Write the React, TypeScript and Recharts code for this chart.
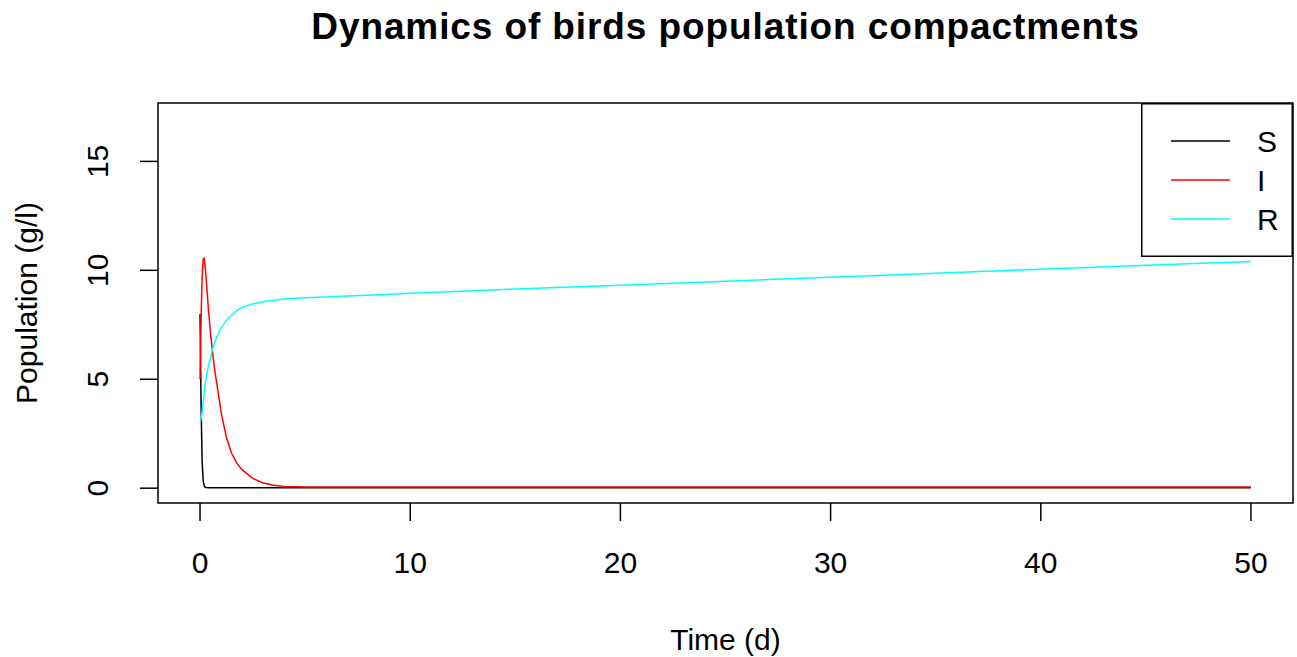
import { Legend, Line, LineChart, ReferenceArea, XAxis, YAxis } from "recharts";

const time = [0, 0.05, 0.1, 0.15, 0.2, 0.25, 0.3, 0.4, 0.5, 0.6, 0.7, 0.8, 1, 1.25, 1.5, 1.75, 2, 2.5, 3, 3.5, 4, 5, 6, 7, 8, 10, 15, 20, 25, 30, 35, 40, 45, 50];
const susceptible = [8.0, 3.8, 1.2, 0.35, 0.1, 0.04, 0.03, 0.02, 0.02, 0.02, 0.02, 0.02, 0.02, 0.02, 0.02, 0.02, 0.02, 0.02, 0.02, 0.02, 0.02, 0.02, 0.02, 0.02, 0.02, 0.02, 0.02, 0.02, 0.02, 0.02, 0.02, 0.02, 0.02, 0.02];
const infected = [5.0, 7.8, 9.7, 10.5, 10.55, 10.1, 9.5, 8.2, 7.1, 6.2, 5.4, 4.8, 3.5, 2.35, 1.6, 1.15, 0.85, 0.45, 0.24, 0.13, 0.08, 0.06, 0.05, 0.05, 0.05, 0.05, 0.05, 0.05, 0.05, 0.05, 0.05, 0.05, 0.05, 0.05];
const recovered = [3.0, 3.2, 3.5, 3.95, 4.4, 4.8, 5.1, 5.6, 6.0, 6.4, 6.7, 6.95, 7.35, 7.7, 7.95, 8.15, 8.3, 8.45, 8.56, 8.63, 8.68, 8.74, 8.78, 8.82, 8.86, 8.95, 9.14, 9.32, 9.5, 9.68, 9.87, 10.05, 10.23, 10.41];

const seriesOrder = ["S", "I", "R"];
const xTicks = [0, 10, 20, 30, 40, 50];
const yTicks = [0, 5, 10, 15];

const data = time.map((t, i) => ({
  t,
  S: susceptible[i],
  I: infected[i],
  R: recovered[i],
}));

const FONT = "'Liberation Sans', Arial, sans-serif";

function YTick({ x, y, payload }: any) {
  return (
    <text x={x} y={y} transform={`rotate(-90 ${x} ${y})`} textAnchor="middle" fontSize={30} fill="#000" fontFamily={FONT}>
      {payload.value}
    </text>
  );
}

function LegendBox({ payload }: any) {
  const items = [...(payload ?? [])].sort(
    (a: any, b: any) => seriesOrder.indexOf(a.value) - seriesOrder.indexOf(b.value)
  );
  return (
    <svg width={152} height={154} style={{ display: "block" }}>
      <rect x={0.75} y={0.75} width={150.5} height={152.5} fill="#fff" stroke="#000" strokeWidth={1.5} />
      {items.map((p: any, i: number) => (
        <g key={p.value}>
          <line x1={30} x2={89} y1={38 + i * 39} y2={38 + i * 39} stroke={p.color} strokeWidth={1.5} />
          <text x={116} y={38 + i * 39} dy="0.36em" fontSize={30} fill="#000" fontFamily={FONT}>
            {p.value}
          </text>
        </g>
      ))}
    </svg>
  );
}

export default function App() {
  return (
    <div style={{ position: "absolute", left: 0, top: 0, width: 1297, height: 657, background: "#fff", fontFamily: FONT }}>
      <div
        style={{
          position: "absolute",
          left: 158,
          width: 1135,
          top: 7,
          textAlign: "center",
          fontSize: 37,
          letterSpacing: "0.9px",
          fontWeight: "bold",
          lineHeight: "40px",
          color: "#000",
        }}
      >
        Dynamics of birds population compactments
      </div>
      <LineChart width={1297} height={657} data={data} margin={{ top: 103, right: 4, bottom: 0, left: 0 }}>
        <XAxis
          dataKey="t"
          type="number"
          domain={[-2, 52]}
          allowDataOverflow
          ticks={xTicks}
          interval={0}
          axisLine={false}
          tickSize={18}
          tickMargin={31}
          tickLine={{ stroke: "#000", strokeWidth: 1.5 }}
          tick={{ fontSize: 30, fill: "#000", fontFamily: FONT }}
          height={154}
          label={{ value: "Time (d)", position: "insideBottom", offset: 7, fontSize: 30, fill: "#000", fontFamily: FONT }}
        />
        <YAxis
          type="number"
          domain={[-0.68, 17.68]}
          allowDataOverflow
          ticks={yTicks}
          interval={0}
          axisLine={false}
          width={158}
          tickSize={18}
          tickMargin={32}
          tickLine={{ stroke: "#000", strokeWidth: 1.5 }}
          tick={<YTick />}
          label={{
            content: ({ viewBox }: any) => {
              const cy = viewBox.y + viewBox.height / 2;
              return (
                <text x={36.5} y={cy} transform={`rotate(-90 36.5 ${cy})`} textAnchor="middle" fontSize={30} fill="#000" fontFamily={FONT}>
                  Population (g/l)
                </text>
              );
            },
          }}
        />
        <ReferenceArea x1={-2} x2={52} y1={-0.68} y2={17.68} fill="none" stroke="#000" strokeWidth={1.5} ifOverflow="visible" />
        <Line dataKey="S" name="S" stroke="#000000" strokeWidth={1.5} dot={false} type="linear" isAnimationActive={false} />
        <Line dataKey="I" name="I" stroke="#ff0000" strokeWidth={1.5} dot={false} type="linear" isAnimationActive={false} />
        <Line dataKey="R" name="R" stroke="#00ffff" strokeWidth={1.5} dot={false} type="linear" isAnimationActive={false} />
        <Legend
          layout="horizontal"
          verticalAlign="middle"
          align="center"
          content={<LegendBox />}
          wrapperStyle={{ position: "absolute", left: 1141, top: 103, width: 152, height: 154 }}
        />
      </LineChart>
    </div>
  );
}
